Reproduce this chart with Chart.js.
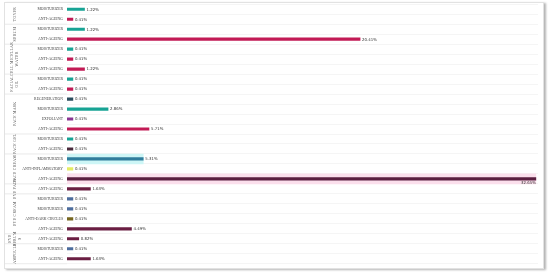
<!DOCTYPE html>
<html>
<head>
<meta charset="utf-8">
<script src="https://cdn.jsdelivr.net/npm/chart.js@4"></script>
<style>
  html, body { margin: 0; padding: 0; background: #fff; overflow: hidden; }
  #card {
    position: absolute; left: 4px; top: 2px;
    width: 538px; height: 265px;
    border: 1px solid #e2e2e2;
    box-shadow: 2px 1px 2px #b5b5b5;
  }
  #wrap {
    position: absolute; left: 5px; top: -2px;
    width: 538px; height: 272px;
  }
</style>
</head>
<body>
<div id="card"></div>
<div id="wrap"><canvas id="skinChart"></canvas></div>
<script>
  // sous-catégories (une ligne par barre)
  const subLabels = [
    'MOISTURIZER', 'ANTI-AGEING',
    'MOISTURIZER', 'ANTI-AGEING',
    'MOISTURIZER', 'ANTI-AGEING', 'ANTI-AGEING',
    'MOISTURIZER', 'ANTI-AGEING',
    'REGENERATION', 'MOISTURIZER', 'EXFOLIANT', 'ANTI-AGEING',
    'MOISTURIZER', 'ANTI-AGEING',
    'MOISTURIZER', 'ANTI-INFLAMMATORY', 'ANTI-AGEING',
    'ANTI-AGEING',
    'MOISTURIZER', 'MOISTURIZER', 'ANTI-DARK CIRCLES', 'ANTI-AGEING',
    'ANTI-AGEING',
    'MOISTURIZER', 'ANTI-AGEING'
  ];
  // pourcentages
  const shares = [
    1.22, 0.41,
    1.22, 20.41,
    0.41, 0.41, 1.22,
    0.41, 0.41,
    0.41, 2.86, 0.41, 5.71,
    0.41, 0.41,
    5.31, 0.41, 32.65,
    1.63,
    0.41, 0.41, 0.41, 4.49,
    0.82,
    0.41, 1.63
  ];
  // groupes de produits et nombre de lignes de chacun
  const groupNames = [
    ['TONER'], ['SERUM'], ['CELL MICELLAR', 'WATER'], ['FACIAL', 'OIL'],
    ['FACE MASK'], ['FACE GEL'], ['FACE CREAM'], ['EYE PADS'], ['EYE CREAM'],
    ['EYE', 'SERUM', 'S'], ['AMPOULE']
  ];
  const groupSizes = [2, 2, 3, 2, 4, 2, 3, 1, 4, 1, 2];
  // lignes mises en évidence
  const highlightRows = [15, 17];
  const highlightColors = ['#cdf6f6', '#fbdfec'];

  const barColors = [
    '#17a394', '#c21a55',
    '#17a394', '#c21a55',
    '#17a394', '#c21a55', '#c21a55',
    '#17a394', '#c21a55',
    '#2c4d5e', '#17a394', '#8a3592', '#c21a55',
    '#17a394', '#4b2a3c',
    '#2f7d9c', '#e3ec62', '#5a1f40',
    '#6a1e42',
    '#4d6c9c', '#4d6c9c', '#76661f', '#6a1e42',
    '#6a1e42',
    '#4d6c9c', '#6a1e42'
  ];

  const highlightData = shares.map((v, i) => highlightRows.includes(i) ? v : null);
  const highlightBg = shares.map((v, i) => {
    const k = highlightRows.indexOf(i);
    return k >= 0 ? highlightColors[k] : 'transparent';
  });

  // étiquettes de valeur au bout des barres
  const valueLabels = {
    id: 'valueLabels',
    afterDatasetsDraw(chart) {
      const ctx = chart.ctx;
      const meta = chart.getDatasetMeta(0);
      const area = chart.chartArea;
      ctx.save();
      ctx.font = '3.9px "DejaVu Sans"';
      ctx.fillStyle = '#333';
      ctx.textBaseline = 'middle';
      meta.data.forEach((bar, i) => {
        const txt = shares[i].toFixed(2) + '%';
        const w = ctx.measureText(txt).width;
        if (bar.x + 2 + w > area.right) {
          ctx.textAlign = 'right';
          ctx.fillText(txt, bar.x, bar.y + 4);
        } else {
          ctx.textAlign = 'left';
          ctx.fillText(txt, bar.x + 2, bar.y + 0.3);
        }
      });
      ctx.restore();
    }
  };

  // libellés de groupe verticaux et séparateurs
  const groupAxis = {
    id: 'groupAxis',
    afterDraw(chart) {
      const ctx = chart.ctx;
      const y = chart.scales.y;
      const area = chart.chartArea;
      const step = y.getPixelForValue(1) - y.getPixelForValue(0);
      ctx.save();
      let start = 0;
      groupSizes.forEach((n, g) => {
        const top = y.getPixelForValue(start) - step / 2;
        const bottom = y.getPixelForValue(start + n - 1) + step / 2;
        ctx.strokeStyle = '#dcdcdc';
        ctx.lineWidth = 0.6;
        ctx.beginPath();
        ctx.moveTo(0, bottom);
        ctx.lineTo(area.left, bottom);
        ctx.stroke();

        const lines = groupNames[g];
        const cy = (top + bottom) / 2;
        ctx.save();
        ctx.translate(10, cy);
        ctx.rotate(-Math.PI / 2);
        ctx.font = '3.8px "Liberation Serif"';
        ctx.fillStyle = '#444';
        ctx.textAlign = 'center';
        ctx.textBaseline = 'middle';
        const lh = 5;
        lines.forEach((t, k) => {
          const off = (k - (lines.length - 1) / 2) * lh;
          ctx.fillText(t.split('').join(String.fromCharCode(8202)), 0, off);
        });
        ctx.restore();
        start += n;
      });
      ctx.restore();
    }
  };

  const ctx = document.getElementById('skinChart').getContext('2d');
  new Chart(ctx, {
    type: 'bar',
    data: {
      labels: subLabels,
      datasets: [
        {
          label: 'share',
          data: shares,
          backgroundColor: barColors,
          barThickness: 2.5,
          order: 0
        },
        {
          label: 'highlight',
          data: highlightData,
          backgroundColor: highlightBg,
          barPercentage: 1,
          categoryPercentage: 1,
          order: 1
        }
      ]
    },
    options: {
      indexAxis: 'y',
      responsive: true,
      maintainAspectRatio: false,
      animation: false,
      events: [],
      layout: { padding: { top: 0, right: 5, bottom: 0, left: 0 } },
      plugins: { legend: { display: false }, tooltip: { enabled: false } },
      datasets: { bar: { grouped: false } },
      scales: {
        x: { display: false, min: 0, max: 32.8 },
        y: {
          afterFit(scale) { scale.width = 62; },
          border: { display: false },
          grid: { color: '#efefef', lineWidth: 0.6, drawTicks: false },
          ticks: {
            padding: 4,
            color: '#444',
            font: { family: 'Liberation Serif', size: 3.8 }
          }
        }
      }
    },
    plugins: [valueLabels, groupAxis]
  });
</script>
</body>
</html>
